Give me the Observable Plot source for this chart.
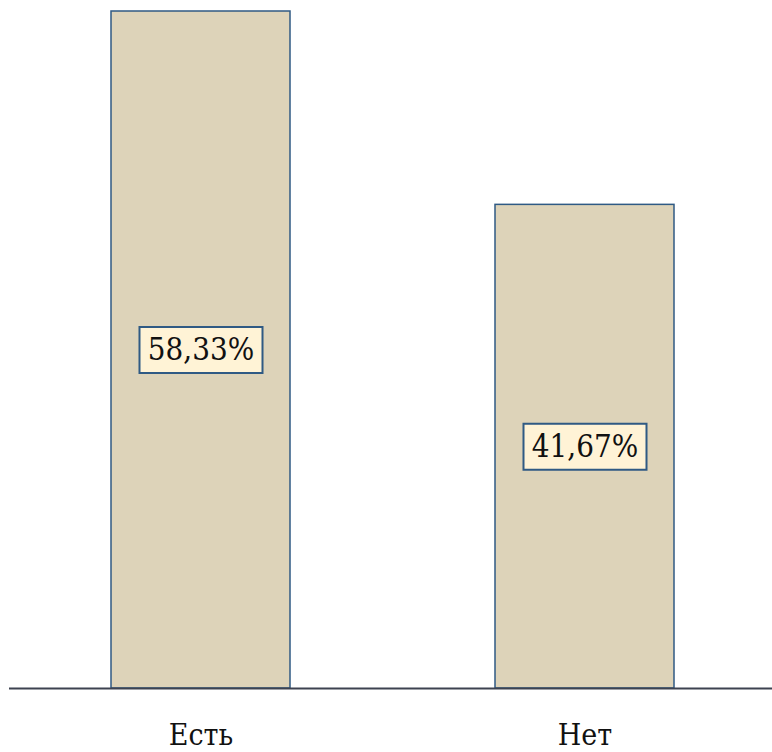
<!DOCTYPE html>
<html>
<head>
<meta charset="utf-8">
<script src="https://cdn.jsdelivr.net/npm/d3@7"></script>
<script src="https://cdn.jsdelivr.net/npm/@observablehq/plot@0.6"></script>
<style>
  html, body { margin: 0; padding: 0; background: #fff; }
  svg text { font-stretch: condensed; }
</style>
</head>
<body>
<div id="chart"></div>
<script>
const categories = ["Есть", "Нет"];
const values = [58.33, 41.67];

const data = categories.map((c, i) => ({category: c, value: values[i]}));
const fmt = v => v.toFixed(2).replace(".", ",") + "%";

const boxSymbol = {
  draw(context) {
    context.rect(-61.5, -23, 123, 46);
  }
};

const serif = "'DejaVu Serif Condensed', 'DejaVu Serif', serif";

const chart = Plot.plot({
  width: 772,
  height: 752,
  marginTop: 11,
  marginBottom: 64,
  marginLeft: 9,
  marginRight: 0,
  style: {fontFamily: serif, background: "#fff"},
  x: {domain: categories, range: [9, 776], paddingInner: 0.534, paddingOuter: 0.265, label: null},
  y: {domain: [0, 58.33], axis: null},
  marks: [
    Plot.barY(data, {x: "category", y: "value", fill: "#ddd3b9", stroke: "#2f5a84", strokeWidth: 1.5}),
    Plot.ruleY([0], {stroke: "#3d4250", strokeWidth: 2}),
    Plot.dot(data, {x: "category", y: d => d.value / 2, symbol: boxSymbol, r: 10, fill: "#fff3d6", stroke: "#2f5a84", strokeWidth: 2, fillOpacity: 1}),
    Plot.text(data, {x: "category", y: d => d.value / 2, text: d => fmt(d.value), fontSize: 31, fontFamily: serif, fill: "#111"}),
    Plot.axisX({tickSize: 0, tickPadding: 35, fontSize: 30, fontFamily: serif, color: "#111", label: null})
  ]
});
document.getElementById("chart").appendChild(chart);
</script>
</body>
</html>
